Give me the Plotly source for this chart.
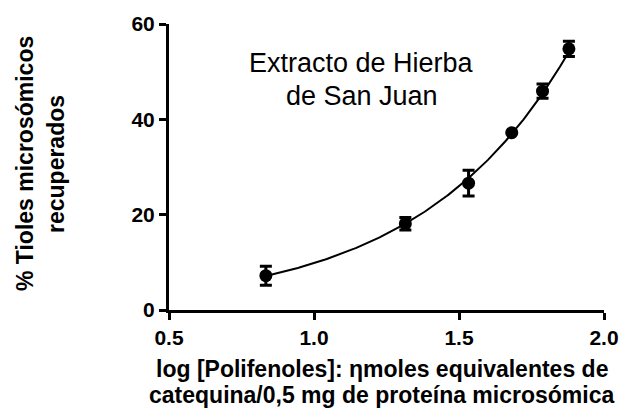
import numpy as np
import plotly.graph_objects as go

# log concentration of polyphenols vs % recovered microsomal thiols
log_polifenoles = [0.834, 1.315, 1.533, 1.682, 1.788, 1.879]
tioles_pct = [7.2, 18.1, 26.6, 37.2, 45.9, 54.8]
error_sem = [2.0, 1.3, 2.7, 0.0, 1.5, 1.6]

x_ticks = [0.5, 1.0, 1.5, 2.0]
x_tick_text = ["0.5", "1.0", "1.5", "2.0"]
y_ticks = [0, 20, 40, 60]

# exponential growth fit y = A * exp(k x)
k, lnA = np.polyfit(log_polifenoles, np.log(tioles_pct), 1)
x_fit = np.linspace(min(log_polifenoles), max(log_polifenoles), 200)
y_fit = np.exp(lnA) * np.exp(k * x_fit)

FONT = "Arial, Liberation Sans, sans-serif"
TITLE_FONT = dict(family=FONT, size=23, weight="bold", color="black")

fig = go.Figure()
fig.add_trace(go.Scatter(
    x=x_fit, y=y_fit, mode="lines",
    line=dict(color="black", width=2),
    hoverinfo="skip", showlegend=False,
))
fig.add_trace(go.Scatter(
    x=log_polifenoles, y=tioles_pct, mode="markers",
    marker=dict(color="black", size=13),
    error_y=dict(type="data", array=error_sem, visible=True,
                 color="black", thickness=3, width=6),
    showlegend=False,
))

axis_common = dict(
    showgrid=False, zeroline=False, showline=True, linecolor="black", linewidth=3,
    ticks="outside", ticklen=7, tickwidth=3, tickcolor="black",
    tickfont=dict(family=FONT, size=21, weight="bold", color="black"),
)

fig.update_layout(
    width=631, height=408,
    margin=dict(l=169, r=26, t=21, b=98),
    plot_bgcolor="white", paper_bgcolor="white",
    font=dict(family=FONT, color="black"),
    xaxis=dict(range=[0.5, 2.0], tickvals=x_ticks, ticktext=x_tick_text, **axis_common),
    yaxis=dict(range=[0, 60], tickvals=y_ticks, **axis_common),
    annotations=[
        dict(text="Extracto de Hierba", x=1.164, y=51.9, xref="x", yref="y",
             showarrow=False, font=dict(family=FONT, size=27)),
        dict(text="de San Juan", x=1.164, y=45.0, xref="x", yref="y",
             showarrow=False, font=dict(family=FONT, size=27)),
        dict(text="log [Polifenoles]: ηmoles equivalentes de",
             x=0.5, y=0, xref="paper", yref="paper", xanchor="center", yanchor="middle",
             yshift=-59, xshift=-5, showarrow=False, font=TITLE_FONT),
        dict(text="catequina/0,5 mg de proteína microsómica",
             x=0.5, y=0, xref="paper", yref="paper", xanchor="center", yanchor="middle",
             yshift=-85, xshift=-5, showarrow=False, font=TITLE_FONT),
        dict(text="% Tioles microsómicos", textangle=-90,
             x=0, y=0.5, xref="paper", yref="paper", xanchor="center", yanchor="middle",
             xshift=-144, yshift=3, showarrow=False, font=TITLE_FONT),
        dict(text="recuperados", textangle=-90,
             x=0, y=0.5, xref="paper", yref="paper", xanchor="center", yanchor="middle",
             xshift=-113, yshift=3, showarrow=False, font=TITLE_FONT),
    ],
)

fig.write_html("out.html")
